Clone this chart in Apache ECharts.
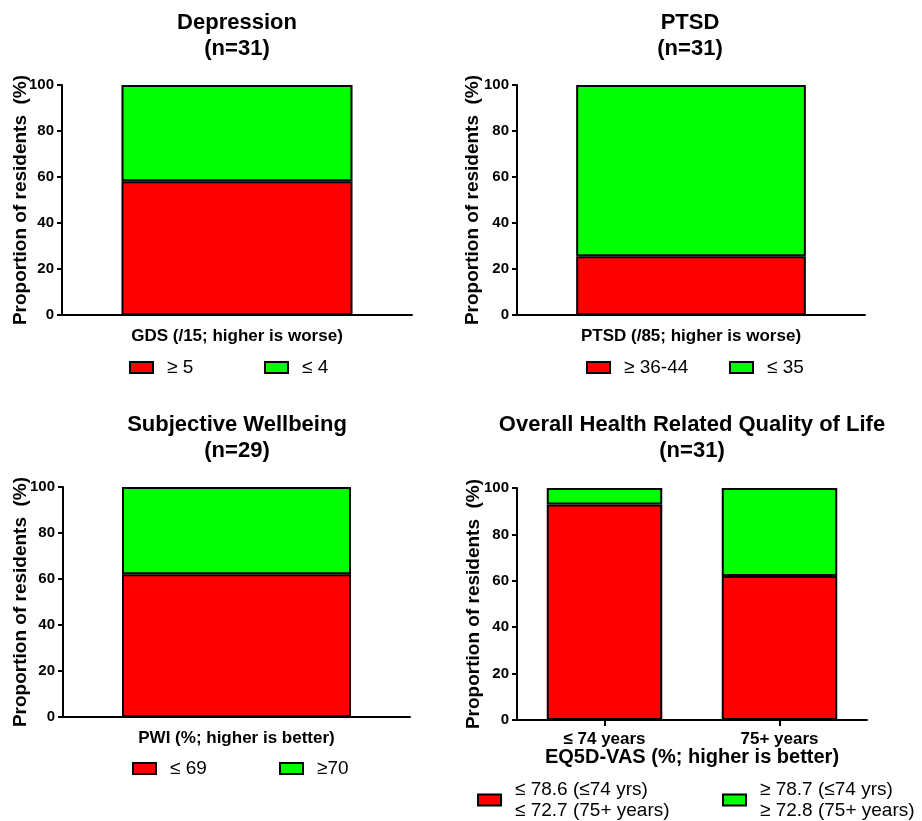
<!DOCTYPE html>
<html>
<head>
<meta charset="utf-8">
<script src="https://cdn.jsdelivr.net/npm/echarts@6/dist/echarts.min.js"></script>
<style>
html,body{margin:0;padding:0;background:#fff;}
#chart{width:922px;height:821px;}
</style>
</head>
<body>
<div id="chart"></div>
<script>
// ---- data ----
const depCats = [''];
const depRed = [58.1];     // ≥ 5
const depGreen = [41.9];   // ≤ 4
const ptsdCats = [''];
const ptsdRed = [25.5];    // ≥ 36-44
const ptsdGreen = [74.5];  // ≤ 35
const pwiCats = [''];
const pwiRed = [62.1];     // ≤ 69
const pwiGreen = [37.9];   // ≥70
const eqCats = ['≤ 74 years', '75+ years'];
const eqRed = [92.9, 62.1];
const eqGreen = [7.1, 37.9];
const yTicks = [0, 20, 40, 60, 80, 100];

const titles = ['Depression\n(n=31)', 'PTSD\n(n=31)', 'Subjective Wellbeing\n(n=29)', 'Overall Health Related Quality of Life\n(n=31)'];
const xNames = ['GDS (/15; higher is worse)', 'PTSD (/85; higher is worse)', 'PWI (%; higher is better)', 'EQ5D-VAS (%; higher is better)'];
const legendNames = [
  ['≥ 5', '≤ 4'],
  ['≥ 36-44', '≤ 35'],
  ['≤ 69', '≥70'],
  ['≤ 78.6 (≤74 yrs)\n≤ 72.7 (75+ years)', '≥ 78.7 (≤74 yrs)\n≥ 72.8 (75+ years)']
];
const yName = 'Proportion of residents  (%)';

const FONT = '"Liberation Sans", Arial, Helvetica, sans-serif';
const RED = '#FF0000', GREEN = '#00FF00';

const grids = [
  {left: 62, top: 85, width: 350, height: 230},
  {left: 517, top: 85, width: 348, height: 230},
  {left: 63, top: 487, width: 347, height: 230},
  {left: 517, top: 488, width: 350, height: 232}
];
const titlePos = [
  {left: 237, top: 10},
  {left: 690, top: 10},
  {left: 237, top: 412},
  {left: 692, top: 412}
];
const yNameGaps = [32, 35, 33, 34];
const cats = [depCats, ptsdCats, pwiCats, eqCats];
const reds = [depRed, ptsdRed, pwiRed, eqRed];
const greens = [depGreen, ptsdGreen, pwiGreen, eqGreen];
const legendPos = [
  [{left: 129, top: 357}, {left: 264, top: 357}],
  [{left: 586, top: 357}, {left: 729, top: 357}],
  [{left: 132, top: 758}, {left: 279, top: 758}],
  [{left: 477, top: 779}, {left: 722, top: 779}]
];

const option = {
  backgroundColor: '#fff',
  animation: false,
  textStyle: {fontFamily: FONT},
  title: titles.map((t, i) => ({
    text: t,
    left: titlePos[i].left,
    top: titlePos[i].top,
    textAlign: 'center',
    padding: 0,
    textStyle: {fontFamily: FONT, fontSize: 22, fontWeight: 'bold', color: '#000', lineHeight: 26, align: 'center'}
  })),
  grid: grids.map(g => Object.assign({outerBoundsMode: 'none', containLabel: false}, g)),
  xAxis: grids.map((g, i) => ({
    type: 'category',
    gridIndex: i,
    data: cats[i],
    name: xNames[i],
    nameLocation: 'middle',
    nameGap: i === 3 ? 27 : 11,
    nameMoveOverlap: false,
    nameTextStyle: {fontFamily: FONT, fontSize: i === 3 ? 20 : 17, fontWeight: 'bold', color: '#000', verticalAlign: 'top', lineHeight: 20},
    axisLine: {show: true, lineStyle: {color: '#000', width: 2}},
    axisTick: {show: i === 3, alignWithLabel: true, length: 6, lineStyle: {color: '#000', width: 2}},
    axisLabel: {show: i === 3, margin: 11, fontFamily: FONT, fontSize: 17, fontWeight: 'bold', color: '#000'},
    splitLine: {show: false}
  })),
  yAxis: grids.map((g, i) => ({
    type: 'value',
    gridIndex: i,
    min: yTicks[0],
    max: yTicks[yTicks.length - 1],
    interval: 20,
    name: yName,
    nameLocation: 'middle',
    nameGap: yNameGaps[i],
    nameMoveOverlap: false,
    nameTextStyle: {fontFamily: FONT, fontSize: 19, fontWeight: 'bold', color: '#000'},
    axisLine: {show: true, lineStyle: {color: '#000', width: 2}},
    axisTick: {show: true, inside: false, length: 5, lineStyle: {color: '#000', width: 2}},
    axisLabel: {margin: 8, fontFamily: FONT, fontSize: 15, fontWeight: 'bold', color: '#000'},
    splitLine: {show: false}
  })),
  legend: [],
  series: []
};

for (let i = 0; i < 4; i++) {
  const stack = 's' + i;
  [[reds[i], RED, legendNames[i][0]], [greens[i], GREEN, legendNames[i][1]]].forEach(([d, c, n]) => {
    option.series.push({
      type: 'bar',
      name: n,
      xAxisIndex: i,
      yAxisIndex: i,
      stack: stack,
      data: d,
      barWidth: '66%',
      itemStyle: {color: c, borderColor: '#000', borderWidth: 2},
      emphasis: {disabled: true}
    });
  });
  legendNames[i].forEach((n, j) => {
    option.legend.push({
      data: [n],
      left: legendPos[i][j].left,
      top: legendPos[i][j].top,
      padding: 0,
      icon: 'rect',
      itemWidth: 23,
      itemHeight: 11,
      selectedMode: false,
      itemStyle: {borderColor: '#000', borderWidth: 2},
      textStyle: {fontFamily: FONT, fontSize: 19, color: '#000', lineHeight: 21, padding: [0, 0, 0, 9]}
    });
  });
}

const chart = echarts.init(document.getElementById('chart'), null, {renderer: 'canvas'});
chart.setOption(option);
</script>
</body>
</html>
